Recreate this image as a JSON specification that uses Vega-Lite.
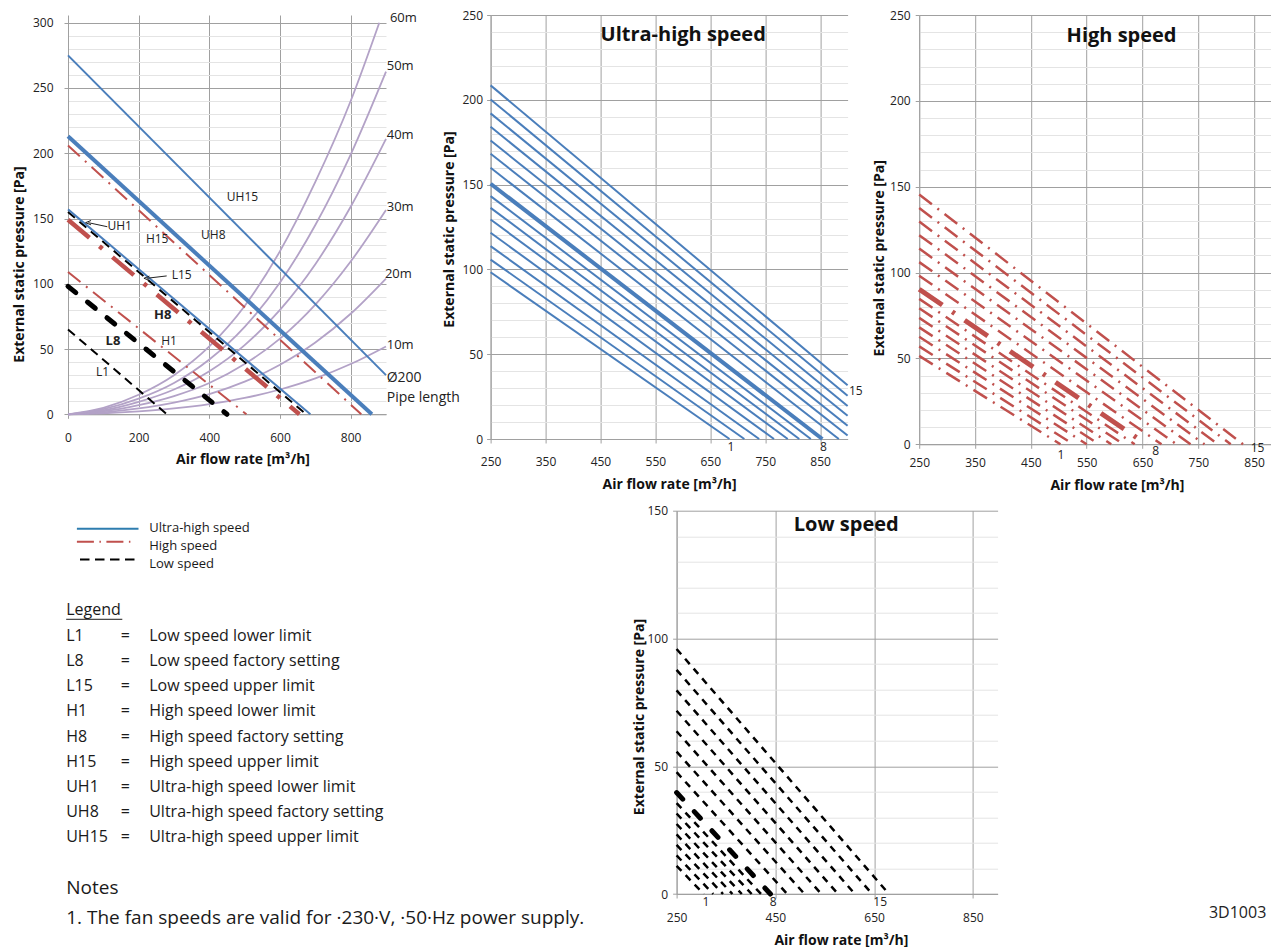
{
  "$schema": "https://vega.github.io/schema/vega-lite/v6.json",
  "background": "white",
  "padding": {"left": 12, "top": 9, "right": 0, "bottom": 0},
  "columns": 3,
  "bounds": "flush",
  "align": "each",
  "spacing": {"row": 65.7, "column": 71.6},
  "config": {
    "font": "Open Sans",
    "view": {"stroke": null},
    "axis": {
      "domainColor": "#A0A0A0", "gridColor": "#A0A0A0", "tickColor": "#A0A0A0", "tickSize": 4,
      "labelFont": "Open Sans", "labelFontSize": 12, "labelColor": "#222222", "labelFlush": false, "labelOverlap": false,
      "titleFont": "Open Sans", "titleFontSize": 14, "titleFontWeight": "bold", "titleColor": "#111111", "titleBaseline": "middle"
    }
  },
  "datasets": {
    "p1fan": [
      {"curve": "UH15", "speed": "UH", "step": 15, "flow": 0, "pressure": 275},
      {"curve": "UH15", "speed": "UH", "step": 15, "flow": 900, "pressure": 30},
      {"curve": "UH8", "speed": "UH", "step": 8, "flow": 0, "pressure": 213},
      {"curve": "UH8", "speed": "UH", "step": 8, "flow": 860, "pressure": 0},
      {"curve": "UH1", "speed": "UH", "step": 1, "flow": 0, "pressure": 157},
      {"curve": "UH1", "speed": "UH", "step": 1, "flow": 686, "pressure": 0},
      {"curve": "H15", "speed": "H", "step": 15, "flow": 0, "pressure": 206},
      {"curve": "H15", "speed": "H", "step": 15, "flow": 830, "pressure": 0},
      {"curve": "H8", "speed": "H", "step": 8, "flow": 0, "pressure": 149},
      {"curve": "H8", "speed": "H", "step": 8, "flow": 655, "pressure": 0},
      {"curve": "H1", "speed": "H", "step": 1, "flow": 0, "pressure": 109},
      {"curve": "H1", "speed": "H", "step": 1, "flow": 505, "pressure": 0},
      {"curve": "L15", "speed": "L", "step": 15, "flow": 0, "pressure": 155},
      {"curve": "L15", "speed": "L", "step": 15, "flow": 674, "pressure": 0},
      {"curve": "L8", "speed": "L", "step": 8, "flow": 0, "pressure": 98},
      {"curve": "L8", "speed": "L", "step": 8, "flow": 450, "pressure": 0},
      {"curve": "L1", "speed": "L", "step": 1, "flow": 0, "pressure": 65},
      {"curve": "L1", "speed": "L", "step": 1, "flow": 280, "pressure": 0}
    ],
    "p1pipe": [
      {"pipe": "10m", "flow": 0, "pressure": 0}, {"pipe": "10m", "flow": 100, "pressure": 0.8}, {"pipe": "10m", "flow": 200, "pressure": 2.3}, {"pipe": "10m", "flow": 300, "pressure": 4.5}, {"pipe": "10m", "flow": 400, "pressure": 7.8}, {"pipe": "10m", "flow": 500, "pressure": 12.5}, {"pipe": "10m", "flow": 600, "pressure": 19}, {"pipe": "10m", "flow": 700, "pressure": 27.5}, {"pipe": "10m", "flow": 800, "pressure": 38.5}, {"pipe": "10m", "flow": 900, "pressure": 52},
      {"pipe": "20m", "flow": 0, "pressure": 0}, {"pipe": "20m", "flow": 100, "pressure": 1.5}, {"pipe": "20m", "flow": 200, "pressure": 4.5}, {"pipe": "20m", "flow": 300, "pressure": 9}, {"pipe": "20m", "flow": 400, "pressure": 15.5}, {"pipe": "20m", "flow": 500, "pressure": 25}, {"pipe": "20m", "flow": 600, "pressure": 38}, {"pipe": "20m", "flow": 700, "pressure": 55}, {"pipe": "20m", "flow": 800, "pressure": 77}, {"pipe": "20m", "flow": 900, "pressure": 104},
      {"pipe": "30m", "flow": 0, "pressure": 0}, {"pipe": "30m", "flow": 100, "pressure": 2.2}, {"pipe": "30m", "flow": 200, "pressure": 7}, {"pipe": "30m", "flow": 300, "pressure": 14}, {"pipe": "30m", "flow": 400, "pressure": 24}, {"pipe": "30m", "flow": 500, "pressure": 38.5}, {"pipe": "30m", "flow": 600, "pressure": 58}, {"pipe": "30m", "flow": 700, "pressure": 84}, {"pipe": "30m", "flow": 800, "pressure": 117}, {"pipe": "30m", "flow": 900, "pressure": 156.5},
      {"pipe": "40m", "flow": 0, "pressure": 0}, {"pipe": "40m", "flow": 100, "pressure": 3}, {"pipe": "40m", "flow": 200, "pressure": 9.5}, {"pipe": "40m", "flow": 300, "pressure": 19}, {"pipe": "40m", "flow": 400, "pressure": 33}, {"pipe": "40m", "flow": 500, "pressure": 53}, {"pipe": "40m", "flow": 600, "pressure": 80}, {"pipe": "40m", "flow": 700, "pressure": 115}, {"pipe": "40m", "flow": 800, "pressure": 159}, {"pipe": "40m", "flow": 900, "pressure": 211},
      {"pipe": "50m", "flow": 0, "pressure": 0}, {"pipe": "50m", "flow": 100, "pressure": 4}, {"pipe": "50m", "flow": 200, "pressure": 12}, {"pipe": "50m", "flow": 300, "pressure": 24}, {"pipe": "50m", "flow": 400, "pressure": 42}, {"pipe": "50m", "flow": 500, "pressure": 67}, {"pipe": "50m", "flow": 600, "pressure": 101}, {"pipe": "50m", "flow": 700, "pressure": 145}, {"pipe": "50m", "flow": 800, "pressure": 199}, {"pipe": "50m", "flow": 900, "pressure": 262.5},
      {"pipe": "60m", "flow": 0, "pressure": 0}, {"pipe": "60m", "flow": 100, "pressure": 5}, {"pipe": "60m", "flow": 200, "pressure": 15}, {"pipe": "60m", "flow": 300, "pressure": 30}, {"pipe": "60m", "flow": 400, "pressure": 52}, {"pipe": "60m", "flow": 500, "pressure": 83}, {"pipe": "60m", "flow": 600, "pressure": 125}, {"pipe": "60m", "flow": 700, "pressure": 178}, {"pipe": "60m", "flow": 800, "pressure": 240}, {"pipe": "60m", "flow": 881, "pressure": 300}
    ],
    "p1labels": [
      {"label": "UH15", "flow": 493.9, "pressure": 166.7},
      {"label": "UH8", "flow": 411.3, "pressure": 137.4},
      {"label": "H15", "flow": 252.4, "pressure": 134.1},
      {"label": "UH1", "flow": 146.3, "pressure": 144.3},
      {"label": "L15", "flow": 321.8, "pressure": 106.7},
      {"label": "H8", "flow": 268.3, "pressure": 76.1},
      {"label": "L8", "flow": 127.4, "pressure": 56.4},
      {"label": "H1", "flow": 285.9, "pressure": 56.4},
      {"label": "L1", "flow": 97.6, "pressure": 32.6}
    ],
    "p1pipeLabels": [
      {"label": "60m", "kind": "length", "flow": 911, "pressure": 303.4},
      {"label": "50m", "kind": "length", "flow": 902, "pressure": 266.8},
      {"label": "40m", "kind": "length", "flow": 902, "pressure": 214},
      {"label": "30m", "kind": "length", "flow": 902, "pressure": 158.6},
      {"label": "20m", "kind": "length", "flow": 897, "pressure": 107.5},
      {"label": "10m", "kind": "length", "flow": 902, "pressure": 53.1},
      {"label": "Ø200", "kind": "note", "flow": 902, "pressure": 27.6},
      {"label": "Pipe length", "kind": "note", "flow": 902, "pressure": 12.3}
    ],
    "p1arrows": [
      {"flow": 111.2, "pressure": 143.7, "flow2": 57.5, "pressure2": 146.8},
      {"flow": 279.3, "pressure": 106, "flow2": 222.7, "pressure2": 104.2}
    ],
    "uh": [
      {"step": 1, "flow": 250, "pressure": 98.3}, {"step": 1, "flow": 685, "pressure": 0},
      {"step": 2, "flow": 250, "pressure": 105.8}, {"step": 2, "flow": 712, "pressure": 0},
      {"step": 3, "flow": 250, "pressure": 113.7}, {"step": 3, "flow": 739, "pressure": 0},
      {"step": 4, "flow": 250, "pressure": 121.6}, {"step": 4, "flow": 766, "pressure": 0},
      {"step": 5, "flow": 250, "pressure": 129.4}, {"step": 5, "flow": 791, "pressure": 0},
      {"step": 6, "flow": 250, "pressure": 136.3}, {"step": 6, "flow": 812, "pressure": 0},
      {"step": 7, "flow": 250, "pressure": 143.2}, {"step": 7, "flow": 833, "pressure": 0},
      {"step": 8, "flow": 250, "pressure": 150.5}, {"step": 8, "flow": 854, "pressure": 0},
      {"step": 9, "flow": 250, "pressure": 159.9}, {"step": 9, "flow": 884, "pressure": 0},
      {"step": 10, "flow": 250, "pressure": 168.2}, {"step": 10, "flow": 900, "pressure": 2.1},
      {"step": 11, "flow": 250, "pressure": 176.0}, {"step": 11, "flow": 900, "pressure": 7.8},
      {"step": 12, "flow": 250, "pressure": 184.1}, {"step": 12, "flow": 900, "pressure": 13.7},
      {"step": 13, "flow": 250, "pressure": 192.0}, {"step": 13, "flow": 900, "pressure": 19.5},
      {"step": 14, "flow": 250, "pressure": 200.2}, {"step": 14, "flow": 900, "pressure": 25.5},
      {"step": 15, "flow": 250, "pressure": 208.5}, {"step": 15, "flow": 900, "pressure": 31.7}
    ],
    "uhLabels": [
      {"label": "1", "kind": "step", "flow": 687.5, "pressure": -4.7},
      {"label": "8", "kind": "step", "flow": 856, "pressure": -4.7},
      {"label": "15", "kind": "step", "flow": 915, "pressure": 28.1},
      {"label": "Ultra-high speed", "kind": "title", "flow": 600.6, "pressure": 238}
    ],
    "hi": [
      {"step": 1, "flow": 250, "pressure": 51.5}, {"step": 1, "flow": 503, "pressure": 0},
      {"step": 2, "flow": 250, "pressure": 57.0}, {"step": 2, "flow": 526, "pressure": 0},
      {"step": 3, "flow": 250, "pressure": 62.6}, {"step": 3, "flow": 550, "pressure": 0},
      {"step": 4, "flow": 250, "pressure": 68.1}, {"step": 4, "flow": 572, "pressure": 0},
      {"step": 5, "flow": 250, "pressure": 73.6}, {"step": 5, "flow": 594, "pressure": 0},
      {"step": 6, "flow": 250, "pressure": 79.2}, {"step": 6, "flow": 616, "pressure": 0},
      {"step": 7, "flow": 250, "pressure": 84.7}, {"step": 7, "flow": 636, "pressure": 0},
      {"step": 8, "flow": 250, "pressure": 90.3}, {"step": 8, "flow": 657, "pressure": 0},
      {"step": 9, "flow": 250, "pressure": 98.2}, {"step": 9, "flow": 684, "pressure": 0},
      {"step": 10, "flow": 250, "pressure": 106.1}, {"step": 10, "flow": 711, "pressure": 0},
      {"step": 11, "flow": 250, "pressure": 114.0}, {"step": 11, "flow": 736, "pressure": 0},
      {"step": 12, "flow": 250, "pressure": 121.8}, {"step": 12, "flow": 761, "pressure": 0},
      {"step": 13, "flow": 250, "pressure": 129.7}, {"step": 13, "flow": 785, "pressure": 0},
      {"step": 14, "flow": 250, "pressure": 137.6}, {"step": 14, "flow": 808, "pressure": 0},
      {"step": 15, "flow": 250, "pressure": 145.5}, {"step": 15, "flow": 830, "pressure": 0}
    ],
    "hiLabels": [
      {"label": "1", "kind": "step", "flow": 503.8, "pressure": -6.2},
      {"label": "8", "kind": "step", "flow": 673.4, "pressure": -4.0},
      {"label": "15", "kind": "step", "flow": 856, "pressure": -2.4},
      {"label": "High speed", "kind": "title", "flow": 612.5, "pressure": 238}
    ],
    "lo": [
      {"step": 1, "flow": 250, "pressure": 11.0}, {"step": 1, "flow": 305, "pressure": 0},
      {"step": 2, "flow": 250, "pressure": 15.1}, {"step": 2, "flow": 324, "pressure": 0},
      {"step": 3, "flow": 250, "pressure": 19.2}, {"step": 3, "flow": 344, "pressure": 0},
      {"step": 4, "flow": 250, "pressure": 23.3}, {"step": 4, "flow": 363, "pressure": 0},
      {"step": 5, "flow": 250, "pressure": 27.4}, {"step": 5, "flow": 382, "pressure": 0},
      {"step": 6, "flow": 250, "pressure": 31.5}, {"step": 6, "flow": 402, "pressure": 0},
      {"step": 7, "flow": 250, "pressure": 35.6}, {"step": 7, "flow": 421, "pressure": 0},
      {"step": 8, "flow": 250, "pressure": 39.7}, {"step": 8, "flow": 440, "pressure": 0},
      {"step": 9, "flow": 250, "pressure": 47.7}, {"step": 9, "flow": 474, "pressure": 0},
      {"step": 10, "flow": 250, "pressure": 55.7}, {"step": 10, "flow": 509, "pressure": 0},
      {"step": 11, "flow": 250, "pressure": 63.7}, {"step": 11, "flow": 543, "pressure": 0},
      {"step": 12, "flow": 250, "pressure": 71.7}, {"step": 12, "flow": 577, "pressure": 0},
      {"step": 13, "flow": 250, "pressure": 79.7}, {"step": 13, "flow": 611, "pressure": 0},
      {"step": 14, "flow": 250, "pressure": 87.7}, {"step": 14, "flow": 646, "pressure": 0},
      {"step": 15, "flow": 250, "pressure": 95.9}, {"step": 15, "flow": 680, "pressure": 0}
    ],
    "loLabels": [
      {"label": "1", "kind": "step", "flow": 309.3, "pressure": -3.3},
      {"label": "8", "kind": "step", "flow": 445.4, "pressure": -3.3},
      {"label": "15", "kind": "step", "flow": 662.3, "pressure": -3.3},
      {"label": "Low speed", "kind": "title", "flow": 593.5, "pressure": 144.4},
      {"label": "3D1003", "kind": "code", "flow": 1328, "pressure": -7.3}
    ],
    "keys": [
      {"key": "L1", "desc": "Low speed lower limit", "line": 0},
      {"key": "L8", "desc": "Low speed factory setting", "line": 1},
      {"key": "L15", "desc": "Low speed upper limit", "line": 2},
      {"key": "H1", "desc": "High speed lower limit", "line": 3},
      {"key": "H8", "desc": "High speed factory setting", "line": 4},
      {"key": "H15", "desc": "High speed upper limit", "line": 5},
      {"key": "UH1", "desc": "Ultra-high speed lower limit", "line": 6},
      {"key": "UH8", "desc": "Ultra-high speed factory setting", "line": 7},
      {"key": "UH15", "desc": "Ultra-high speed upper limit", "line": 8}
    ],
    "heading": [{"text": "Legend", "line": -1.03}],
    "notes": [
      {"text": "Notes", "line": 10.05},
      {"text": "1. The fan speeds are valid for ·230·V, ·50·Hz power supply.", "line": 11.23}
    ],
    "styles": [
      {"label": "Ultra-high speed", "speed": "UH", "line": -4.32},
      {"label": "High speed", "speed": "H", "line": -3.59},
      {"label": "Low speed", "speed": "L", "line": -2.86}
    ]
  },
  "concat": [
    {
      "width": 350.1,
      "height": 399.3,
      "encoding": {
        "x": {"field": "flow", "type": "quantitative",
          "scale": {"domain": [0, 900], "range": [0, 318], "nice": false, "zero": false},
          "axis": {"values": [0, 200, 400, 600, 800], "title": "Air flow rate [m³/h]", "labelPadding": 14.2, "titleX": 174.5, "titleY": 45}},
        "y": {"field": "pressure", "type": "quantitative",
          "scale": {"domain": [0, 300], "range": [399.3, 7.7], "nice": false, "zero": false},
          "axis": {"values": [0,10,20,30,40,50,60,70,80,90,100,110,120,130,140,150,160,170,180,190,200,210,220,230,240,250,260,270,280,290,300],
            "labelExpr": "datum.value % 50 === 0 ? datum.label : ''",
            "gridColor": {"condition": {"test": "datum.value % 50 === 0", "value": "#A0A0A0"}, "value": "#E4E4E4"},
            "tickColor": {"condition": {"test": "datum.value % 50 === 0", "value": "#A0A0A0"}, "value": "rgba(0,0,0,0)"},
            "labelPadding": 11, "title": "External static pressure [Pa]", "titleX": -49, "titleY": 249}}
      },
      "layer": [
        {"data": {"name": "p1pipe"}, "mark": {"type": "line", "color": "#B3A2C7", "strokeWidth": 1.8, "interpolate": "monotone"}, "encoding": {"detail": {"field": "pipe"}}},
        {"data": {"name": "p1fan"}, "transform": [{"filter": "datum.speed === 'L' && datum.step !== 8"}], "mark": {"type": "line", "color": "#000000", "strokeWidth": 2, "strokeDash": [9, 6]}, "encoding": {"detail": {"field": "curve"}}},
        {"data": {"name": "p1fan"}, "transform": [{"filter": "datum.curve === 'L8'"}], "mark": {"type": "line", "color": "#000000", "strokeWidth": 5, "strokeDash": [10, 15], "strokeCap": "round"}, "encoding": {"detail": {"field": "curve"}}},
        {"data": {"name": "p1fan"}, "transform": [{"filter": "datum.speed === 'H' && datum.step !== 8"}], "mark": {"type": "line", "color": "#C0504D", "strokeWidth": 2, "strokeDash": [16, 7, 2, 7]}, "encoding": {"detail": {"field": "curve"}}},
        {"data": {"name": "p1fan"}, "transform": [{"filter": "datum.curve === 'H8'"}], "mark": {"type": "line", "color": "#C0504D", "strokeWidth": 4.5, "strokeDash": [28, 13, 4, 13]}, "encoding": {"detail": {"field": "curve"}}},
        {"data": {"name": "p1fan"}, "transform": [{"filter": "datum.speed === 'UH' && datum.step !== 8"}], "mark": {"type": "line", "color": "#4A7EBB", "strokeWidth": 2}, "encoding": {"detail": {"field": "curve"}}},
        {"data": {"name": "p1fan"}, "transform": [{"filter": "datum.curve === 'UH8'"}], "mark": {"type": "line", "color": "#4A7EBB", "strokeWidth": 4}, "encoding": {"detail": {"field": "curve"}}},
        {"data": {"name": "p1labels"}, "transform": [{"filter": "datum.label !== 'H8' && datum.label !== 'L8'"}], "mark": {"type": "text", "fontSize": 12, "align": "center", "baseline": "middle", "color": "#222222"}, "encoding": {"text": {"field": "label"}}},
        {"data": {"name": "p1labels"}, "transform": [{"filter": "datum.label === 'H8' || datum.label === 'L8'"}], "mark": {"type": "text", "fontSize": 13, "fontWeight": "bold", "align": "center", "baseline": "middle", "color": "#222222"}, "encoding": {"text": {"field": "label"}}},
        {"data": {"name": "p1pipeLabels"}, "transform": [{"filter": "datum.kind === 'length'"}], "mark": {"type": "text", "fontSize": 13, "align": "left", "baseline": "middle", "color": "#222222"}, "encoding": {"text": {"field": "label"}}},
        {"data": {"name": "p1pipeLabels"}, "transform": [{"filter": "datum.kind === 'note'"}], "mark": {"type": "text", "fontSize": 14, "align": "left", "baseline": "middle", "color": "#222222"}, "encoding": {"text": {"field": "label"}}},
        {"data": {"name": "p1arrows"}, "mark": {"type": "rule", "color": "#222222", "strokeWidth": 1}, "encoding": {"x2": {"field": "flow2"}, "y2": {"field": "pressure2"}}},
        {"data": {"name": "p1arrows"}, "mark": {"type": "point", "shape": "M1,-0.8L-1,0L1,0.8", "filled": false, "stroke": "#222222", "strokeWidth": 1, "size": 30, "opacity": 1}, "encoding": {"x": {"field": "flow2", "type": "quantitative"}, "y": {"field": "pressure2", "type": "quantitative"}}}
      ]
    },
    {
      "width": 357,
      "height": 424,
      "encoding": {
        "x": {"field": "flow", "type": "quantitative",
          "scale": {"domain": [250, 900], "nice": false, "zero": false},
          "axis": {"values": [250, 350, 450, 550, 650, 750, 850], "title": "Air flow rate [m³/h]", "labelPadding": 13.2, "titleY": 45.7}},
        "y": {"field": "pressure", "type": "quantitative",
          "scale": {"domain": [0, 250], "nice": false, "zero": false},
          "axis": {"values": [0,10,20,30,40,50,60,70,80,90,100,110,120,130,140,150,160,170,180,190,200,210,220,230,240,250],
            "labelExpr": "datum.value % 50 === 0 ? datum.label : ''",
            "gridColor": {"condition": {"test": "datum.value % 50 === 0", "value": "#A0A0A0"}, "value": "#E4E4E4"},
            "tickColor": {"condition": {"test": "datum.value % 50 === 0", "value": "#A0A0A0"}, "value": "rgba(0,0,0,0)"},
            "labelPadding": 4, "title": "External static pressure [Pa]", "titleX": -41.4, "titleY": 214}}
      },
      "layer": [
        {"data": {"name": "uh"}, "transform": [{"filter": "datum.step !== 8"}], "mark": {"type": "line", "color": "#4A7EBB", "strokeWidth": 2}, "encoding": {"detail": {"field": "step"}}},
        {"data": {"name": "uh"}, "transform": [{"filter": "datum.step === 8"}], "mark": {"type": "line", "color": "#4A7EBB", "strokeWidth": 4}, "encoding": {"detail": {"field": "step"}}},
        {"data": {"name": "uhLabels"}, "transform": [{"filter": "datum.kind === 'step'"}], "mark": {"type": "text", "fontSize": 12, "align": "center", "baseline": "middle", "color": "#222222"}, "encoding": {"text": {"field": "label"}}},
        {"data": {"name": "uhLabels"}, "transform": [{"filter": "datum.kind === 'title'"}], "mark": {"type": "text", "fontSize": 20, "fontWeight": "bold", "align": "center", "baseline": "middle", "color": "#111111"}, "encoding": {"text": {"field": "label"}}}
      ]
    },
    {
      "width": 351.7,
      "height": 429.3,
      "encoding": {
        "x": {"field": "flow", "type": "quantitative",
          "scale": {"domain": [250, 880], "nice": false, "zero": false},
          "axis": {"values": [250, 350, 450, 550, 650, 750, 850], "title": "Air flow rate [m³/h]", "labelPadding": 9.2, "titleX": 197.7, "titleY": 40.7}},
        "y": {"field": "pressure", "type": "quantitative",
          "scale": {"domain": [0, 250], "nice": false, "zero": false},
          "axis": {"values": [0,10,20,30,40,50,60,70,80,90,100,110,120,130,140,150,160,170,180,190,200,210,220,230,240,250],
            "labelExpr": "datum.value % 50 === 0 ? datum.label : ''",
            "gridColor": {"condition": {"test": "datum.value % 50 === 0", "value": "#A0A0A0"}, "value": "#E4E4E4"},
            "tickColor": {"condition": {"test": "datum.value % 50 === 0", "value": "#A0A0A0"}, "value": "rgba(0,0,0,0)"},
            "labelPadding": 5, "title": "External static pressure [Pa]", "titleX": -40, "titleY": 242.8}}
      },
      "layer": [
        {"data": {"name": "hi"}, "transform": [{"filter": "datum.step !== 8"}], "mark": {"type": "line", "color": "#C0504D", "strokeWidth": 2.5, "strokeDash": [16, 7, 2, 7]}, "encoding": {"detail": {"field": "step"}}},
        {"data": {"name": "hi"}, "transform": [{"filter": "datum.step === 8"}], "mark": {"type": "line", "color": "#C0504D", "strokeWidth": 5, "strokeDash": [28, 12, 3, 12]}, "encoding": {"detail": {"field": "step"}}},
        {"data": {"name": "hiLabels"}, "transform": [{"filter": "datum.kind === 'step'"}], "mark": {"type": "text", "fontSize": 12, "align": "center", "baseline": "middle", "color": "#222222"}, "encoding": {"text": {"field": "label"}}},
        {"data": {"name": "hiLabels"}, "transform": [{"filter": "datum.kind === 'title'"}], "mark": {"type": "text", "fontSize": 20, "fontWeight": "bold", "align": "center", "baseline": "middle", "color": "#111111"}, "encoding": {"text": {"field": "label"}}}
      ]
    },
    {
      "width": 350,
      "height": 430,
      "encoding": {
        "y": {"field": "line", "type": "quantitative", "scale": {"domain": [-4.996, 12.135], "reverse": true, "nice": false, "zero": false}, "axis": null}
      },
      "layer": [
        {"data": {"name": "keys"}, "mark": {"type": "text", "align": "left", "baseline": "middle", "fontSize": 16, "color": "#1A1A1A"}, "encoding": {"x": {"datum": -1.8, "type": "quantitative", "scale": {"domain": [0, 350], "nice": false, "zero": false}, "axis": null}, "text": {"field": "key"}}},
        {"data": {"name": "keys"}, "mark": {"type": "text", "align": "center", "baseline": "middle", "fontSize": 16, "color": "#1A1A1A"}, "encoding": {"x": {"datum": 57.4, "type": "quantitative"}, "text": {"value": "="}}},
        {"data": {"name": "keys"}, "mark": {"type": "text", "align": "left", "baseline": "middle", "fontSize": 16, "color": "#1A1A1A"}, "encoding": {"x": {"datum": 81.2, "type": "quantitative"}, "text": {"field": "desc"}}},
        {"data": {"name": "heading"}, "mark": {"type": "text", "align": "left", "baseline": "middle", "fontSize": 16, "color": "#1A1A1A"}, "encoding": {"x": {"datum": -1.8, "type": "quantitative"}, "text": {"field": "text"}}},
        {"data": {"name": "heading"}, "mark": {"type": "rule", "color": "#1A1A1A", "strokeWidth": 1}, "encoding": {"x": {"datum": -1.8, "type": "quantitative"}, "x2": {"datum": 54.3}, "y": {"datum": -0.67, "type": "quantitative"}}},
        {"data": {"name": "notes"}, "mark": {"type": "text", "align": "left", "baseline": "middle", "fontSize": 19, "color": "#1A1A1A"}, "encoding": {"x": {"datum": -1.8, "type": "quantitative"}, "text": {"field": "text"}}},
        {"data": {"name": "styles"}, "mark": {"type": "text", "align": "left", "baseline": "middle", "fontSize": 13, "color": "#1A1A1A"}, "encoding": {"x": {"datum": 81.2, "type": "quantitative"}, "text": {"field": "label"}}},
        {"data": {"name": "styles"}, "transform": [{"filter": "datum.speed === 'UH'"}], "mark": {"type": "rule", "color": "#2E7DAF", "strokeWidth": 2, "yOffset": 1.2}, "encoding": {"x": {"datum": 8.9, "type": "quantitative"}, "x2": {"datum": 70.5}}},
        {"data": {"name": "styles"}, "transform": [{"filter": "datum.speed === 'H'"}], "mark": {"type": "rule", "color": "#C0504D", "strokeWidth": 2, "strokeDash": [17, 5.5, 1.5, 5.5], "yOffset": -4.2}, "encoding": {"x": {"datum": 8.9, "type": "quantitative"}, "x2": {"datum": 64.7}}},
        {"data": {"name": "styles"}, "transform": [{"filter": "datum.speed === 'L'"}], "mark": {"type": "rule", "color": "#000000", "strokeWidth": 2, "strokeDash": [9.5, 5.5], "yOffset": -4.7}, "encoding": {"x": {"datum": 12, "type": "quantitative"}, "x2": {"datum": 71.2}}}
      ]
    },
    {
      "width": 357,
      "height": 383.3,
      "encoding": {
        "x": {"field": "flow", "type": "quantitative",
          "scale": {"domain": [250, 900], "range": [186, 507], "nice": false, "zero": false},
          "axis": {"values": [250, 450, 650, 850], "title": "Air flow rate [m³/h]", "labelPadding": 14.2, "titleX": 350.3, "titleY": 46}},
        "y": {"field": "pressure", "type": "quantitative",
          "scale": {"domain": [0, 150], "nice": false, "zero": false},
          "axis": {"values": [0,10,20,30,40,50,60,70,80,90,100,110,120,130,140,150],
            "offset": -186,
            "labelExpr": "datum.value % 50 === 0 ? datum.label : ''",
            "gridColor": {"condition": {"test": "datum.value % 50 === 0", "value": "#A0A0A0"}, "value": "#E4E4E4"},
            "tickColor": {"condition": {"test": "datum.value % 50 === 0", "value": "#A0A0A0"}, "value": "rgba(0,0,0,0)"},
            "labelPadding": 5, "title": "External static pressure [Pa]", "titleX": -36.7, "titleY": 205.8}}
      },
      "layer": [
        {"data": {"name": "lo"}, "transform": [{"filter": "datum.step !== 8"}], "mark": {"type": "line", "color": "#000000", "strokeWidth": 2.5, "strokeDash": [7, 6]}, "encoding": {"detail": {"field": "step"}}},
        {"data": {"name": "lo"}, "transform": [{"filter": "datum.step === 8"}], "mark": {"type": "line", "color": "#000000", "strokeWidth": 5, "strokeDash": [9, 17], "strokeCap": "round"}, "encoding": {"detail": {"field": "step"}}},
        {"data": {"name": "loLabels"}, "transform": [{"filter": "datum.kind === 'step'"}], "mark": {"type": "text", "fontSize": 12, "align": "center", "baseline": "middle", "color": "#222222"}, "encoding": {"text": {"field": "label"}}},
        {"data": {"name": "loLabels"}, "transform": [{"filter": "datum.kind === 'title'"}], "mark": {"type": "text", "fontSize": 20, "fontWeight": "bold", "align": "center", "baseline": "middle", "color": "#111111"}, "encoding": {"text": {"field": "label"}}},
        {"data": {"name": "loLabels"}, "transform": [{"filter": "datum.kind === 'code'"}], "mark": {"type": "text", "fontSize": 16, "align": "left", "baseline": "middle", "color": "#222222"}, "encoding": {"text": {"field": "label"}}}
      ]
    }
  ]
}
